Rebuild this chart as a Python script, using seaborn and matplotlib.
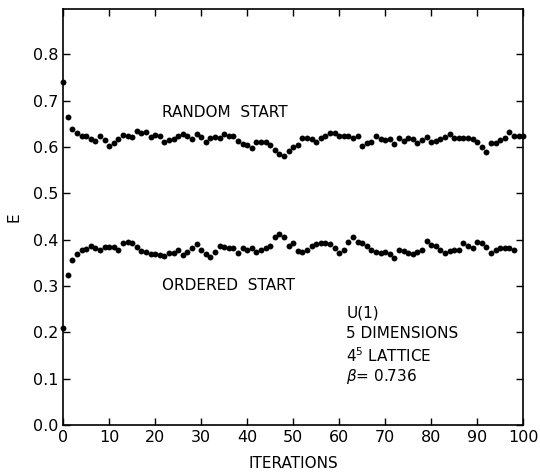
import numpy as np
import pandas as pd
import matplotlib
matplotlib.use("Agg")
import matplotlib.pyplot as plt
import seaborn as sns

# energy per iteration (U(1), 5 dimensions, 4^5 lattice, beta = 0.736)
random_start = [
    0.740, 0.666, 0.639, 0.630, 0.623, 0.625, 0.617, 0.614, 0.623, 0.616,
    0.603, 0.608, 0.617, 0.626, 0.625, 0.621, 0.634, 0.630, 0.632, 0.621,
    0.626, 0.623, 0.610, 0.616, 0.618, 0.623, 0.628, 0.623, 0.618, 0.628,
    0.621, 0.612, 0.620, 0.621, 0.620, 0.628, 0.624, 0.625, 0.613, 0.607,
    0.605, 0.598, 0.612, 0.611, 0.610, 0.605, 0.594, 0.585, 0.580, 0.592,
    0.601, 0.605, 0.619, 0.619, 0.617, 0.612, 0.619, 0.623, 0.630, 0.630,
    0.624, 0.624, 0.624, 0.619, 0.625, 0.603, 0.608, 0.612, 0.624, 0.617,
    0.616, 0.617, 0.607, 0.619, 0.614, 0.620, 0.617, 0.608, 0.616, 0.621,
    0.612, 0.613, 0.617, 0.621, 0.628, 0.620, 0.620, 0.620, 0.619, 0.617,
    0.612, 0.601, 0.589, 0.608, 0.608, 0.616, 0.620, 0.632, 0.623, 0.623,
    0.623,
]

ordered_start = [
    0.210, 0.325, 0.356, 0.369, 0.378, 0.380, 0.387, 0.382, 0.378, 0.384,
    0.385, 0.384, 0.379, 0.392, 0.395, 0.392, 0.384, 0.376, 0.373, 0.369,
    0.369, 0.367, 0.364, 0.371, 0.371, 0.379, 0.367, 0.374, 0.383, 0.390,
    0.378, 0.369, 0.362, 0.374, 0.387, 0.384, 0.383, 0.382, 0.372, 0.382,
    0.378, 0.382, 0.374, 0.379, 0.382, 0.387, 0.407, 0.413, 0.407, 0.387,
    0.392, 0.376, 0.374, 0.379, 0.387, 0.391, 0.392, 0.392, 0.391, 0.383,
    0.372, 0.378, 0.396, 0.405, 0.395, 0.392, 0.387, 0.378, 0.374, 0.372,
    0.374, 0.369, 0.361, 0.379, 0.376, 0.371, 0.369, 0.373, 0.378, 0.398,
    0.389, 0.387, 0.378, 0.371, 0.376, 0.378, 0.378, 0.392, 0.387, 0.382,
    0.395, 0.392, 0.385, 0.372, 0.379, 0.382, 0.382, 0.382, 0.378,
]

x_ticks = [0, 10, 20, 30, 40, 50, 60, 70, 80, 90, 100]
y_ticks = [0.0, 0.1, 0.2, 0.3, 0.4, 0.5, 0.6, 0.7, 0.8]

df = pd.concat([
    pd.DataFrame({"iteration": np.arange(len(random_start)), "E": random_start, "start": "random"}),
    pd.DataFrame({"iteration": np.arange(len(ordered_start)), "E": ordered_start, "start": "ordered"}),
])

sns.set_style("ticks")
plt.rcParams["font.family"] = ["DejaVu Sans"]
plt.rcParams["text.color"] = "black"
plt.rcParams["axes.labelcolor"] = "black"

fig = plt.figure(figsize=(5.4, 4.75), dpi=100)
ax = fig.add_axes([0.117, 0.105, 0.852, 0.876])

sns.scatterplot(data=df, x="iteration", y="E", color="black", s=18,
                linewidth=0, legend=False, ax=ax, clip_on=False)

ax.set_xlim(0, 100)
ax.set_ylim(0, 0.898)
ax.set_xticks(x_ticks)
ax.set_yticks(y_ticks)
ax.set_yticklabels([f"{v:.1f}" for v in y_ticks])
ax.tick_params(direction="in", length=5, width=1, labelsize=11.5,
               top=True, right=True, color="black", labelcolor="black")
for sp in ax.spines.values():
    sp.set_visible(True)
    sp.set_linewidth(1.2)
    sp.set_color("black")

ax.set_xlabel("ITERATIONS", fontsize=11, labelpad=8)
ax.set_ylabel("E", fontsize=11, labelpad=8)

ax.text(21.5, 0.674, "RANDOM  START", fontsize=11, va="center", ha="left")
ax.text(21.5, 0.302, "ORDERED  START", fontsize=11, va="center", ha="left")
ax.text(61.5, 0.242, "U(1)", fontsize=11, va="center", ha="left")
ax.text(61.5, 0.197, "5 DIMENSIONS", fontsize=11, va="center", ha="left")
ax.text(61.5, 0.149, "4$^5$ LATTICE", fontsize=11, va="center", ha="left")
ax.text(61.5, 0.104, "$\\beta$= 0.736", fontsize=11, va="center", ha="left")

fig.savefig("out.png", dpi=100)
